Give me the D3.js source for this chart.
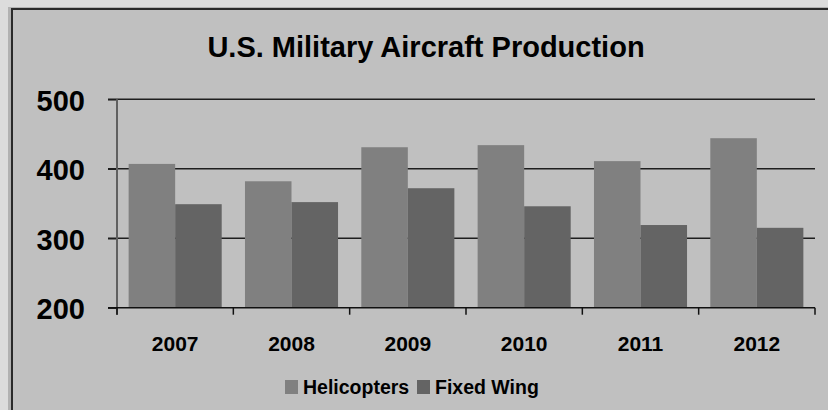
<!DOCTYPE html>
<html>
<head>
<meta charset="utf-8">
<script src="https://cdn.jsdelivr.net/npm/d3@7"></script>
<style>
  html, body { margin: 0; padding: 0; background: #dcdcdc; }
  svg { display: block; font-family: "Liberation Sans", Arial, sans-serif; }
</style>
</head>
<body>
<svg id="chart" width="828" height="410"></svg>
<script>
// data
var years = ['2007', '2008', '2009', '2010', '2011', '2012'];
var seriesNames = ['Helicopters', 'Fixed Wing'];
var helicopters = [407, 382, 431, 434, 411, 444];
var fixedWing = [349, 352, 372, 346, 319, 315];
var yTicks = [200, 300, 400, 500];
var colors = ['#808080', '#646464'];

var svg = d3.select('#chart');

// frame with a little shadow
svg.append('rect').attr('x', 8).attr('y', 7).attr('width', 830).attr('height', 420).attr('fill', '#b2b2b2');
svg.append('rect').attr('x', 12).attr('y', 9).attr('width', 830).attr('height', 420)
  .attr('fill', '#c0c0c0').attr('stroke', '#2a2a2a').attr('stroke-width', 2);

// title
svg.append('text')
  .attr('x', 426).attr('y', 57)
  .attr('text-anchor', 'middle')
  .style('font-size', '29px').style('font-weight', 'bold').attr('fill', '#000')
  .text('U.S. Military Aircraft Production');

var plotLeft = 117, plotRight = 815, plotTop = 99.3, plotBottom = 307.7;

var x = d3.scaleBand().domain(years).range([plotLeft, plotRight]).paddingInner(0.2).paddingOuter(0.1);
var xSeries = d3.scaleBand().domain(seriesNames).range([0, x.bandwidth()]).padding(0);
var y = d3.scaleLinear().domain([200, 500]).range([plotBottom, plotTop]);

// gridlines
svg.append('g').selectAll('line').data(yTicks.slice(1)).join('line')
  .attr('x1', plotLeft - 9).attr('x2', plotRight)
  .attr('y1', function(d){ return y(d); }).attr('y2', function(d){ return y(d); })
  .attr('stroke', '#1e1e1e').attr('stroke-width', 1.5);

// bars
var rows = years.map(function(yr, i){
  return { year: yr, values: [helicopters[i], fixedWing[i]] };
});
svg.append('g').selectAll('g').data(rows).join('g')
  .attr('transform', function(d){ return 'translate(' + x(d.year) + ',0)'; })
  .selectAll('rect').data(function(d){ return d.values; }).join('rect')
  .attr('x', function(d, i){ return xSeries(seriesNames[i]); })
  .attr('width', xSeries.bandwidth())
  .attr('y', function(d){ return y(d); })
  .attr('height', function(d){ return y(200) - y(d); })
  .attr('fill', function(d, i){ return colors[i]; });

// y axis
var yAxis = svg.append('g')
  .attr('transform', 'translate(' + plotLeft + ',0)')
  .call(d3.axisLeft(y).tickValues(yTicks).tickSize(9).tickPadding(23));
yAxis.select('.domain').remove();
yAxis.selectAll('.tick line').attr('stroke', '#1e1e1e').attr('stroke-width', 1.5);
yAxis.selectAll('.tick text')
  .attr('dy', '0.38em')
  .style('font-size', '29px').style('font-weight', 'bold').attr('fill', '#000')
  .style('font-family', '"Liberation Sans", Arial, sans-serif');
svg.append('line')
  .attr('x1', plotLeft).attr('x2', plotLeft).attr('y1', plotTop).attr('y2', plotBottom + 7)
  .attr('stroke', '#606060').attr('stroke-width', 2);

// x axis
var xAxis = svg.append('g')
  .attr('transform', 'translate(0,' + plotBottom + ')')
  .call(d3.axisBottom(x).tickSize(0));
xAxis.select('.domain').remove();
xAxis.selectAll('.tick text')
  .attr('y', 43).attr('dy', 0)
  .style('font-size', '21px').style('font-weight', 'bold').attr('fill', '#000')
  .style('font-family', '"Liberation Sans", Arial, sans-serif');
svg.append('line')
  .attr('x1', plotLeft - 9).attr('x2', plotRight).attr('y1', plotBottom).attr('y2', plotBottom)
  .attr('stroke', '#111').attr('stroke-width', 1.5);
var step = x.step();
svg.append('g').selectAll('line').data(d3.range(years.length + 1)).join('line')
  .attr('x1', function(i){ return plotLeft + i * step; })
  .attr('x2', function(i){ return plotLeft + i * step; })
  .attr('y1', plotBottom).attr('y2', plotBottom + 7)
  .attr('stroke', '#111').attr('stroke-width', 1.5);

// legend
var legendX = [285, 417];
var legend = svg.append('g').selectAll('g').data(seriesNames).join('g')
  .attr('transform', function(d, i){ return 'translate(' + legendX[i] + ',380)'; });
legend.append('rect').attr('width', 13).attr('height', 14)
  .attr('fill', function(d, i){ return colors[i]; });
legend.append('text').attr('x', 18).attr('y', 14)
  .style('font-size', '19.5px').style('font-weight', 'bold').attr('fill', '#000')
  .text(function(d){ return d; });
</script>
</body>
</html>
